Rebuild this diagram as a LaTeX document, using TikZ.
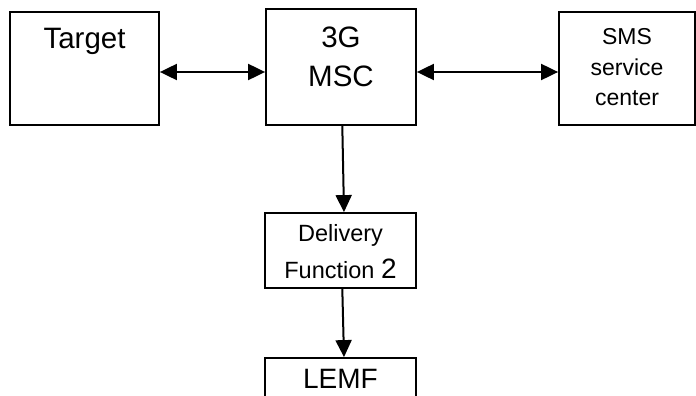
\documentclass[tikz,border=0pt]{standalone}
\usepackage{fontspec}
\setmainfont{Liberation Sans}
\usetikzlibrary{arrows.meta}
\begin{document}
\begin{tikzpicture}[x=1pt,y=-1pt,
  box/.style={draw=black, line width=1.8pt, rectangle, inner sep=0pt, minimum height=0pt, align=center},
  conn/.style={line width=2pt, -{Triangle[length=17pt,width=16pt]}},
  bconn/.style={line width=2pt, {Triangle[length=17pt,width=16pt]}-{Triangle[length=17pt,width=16pt]}}]
\useasboundingbox (0,0) rectangle (696,396);
\clip (0,0) rectangle (696,396);
\fill[white] (0,0) rectangle (696,396);
\node[box, minimum width=149pt, text height=36.3pt, text depth=76.7pt,
  font=\fontsize{29.5}{39.4}\selectfont] (target) at (84.5,68.5) {Target};
\node[box, minimum width=150pt, text height=77.7pt, text depth=38.3pt,
  font=\fontsize{29.5}{39.4}\selectfont] (msc) at (341,67) {3G\\MSC};
\node[box, minimum width=136pt, text height=94pt, text depth=19pt,
  font=\fontsize{23}{30.8}\selectfont] (sms) at (627,68.5) {SMS\\service\\center};
\node[box, minimum width=151pt, text height=65pt, text depth=10pt,
  font=\fontsize{23.5}{37}\selectfont] (dlv) at (340.5,250.5) {Delivery\\Function {\fontsize{28}{37}\selectfont 2}};
\node[box, minimum width=151pt, text height=30pt, text depth=14pt,
  font=\fontsize{28}{39.4}\selectfont] (lemf) at (340.5,380) {LEMF};
\coordinate (h) at (0,72);
\draw[bconn] (target.east |- h) -- (msc.west |- h);
\draw[bconn] (msc.east |- h) -- (sms.west |- h);
\draw[conn] ([xshift=1.3pt]msc.south) -- ([xshift=3.5pt]dlv.north);
\draw[conn] ([xshift=1.8pt]dlv.south) -- ([xshift=3.5pt]lemf.north);
\end{tikzpicture}
\end{document}
